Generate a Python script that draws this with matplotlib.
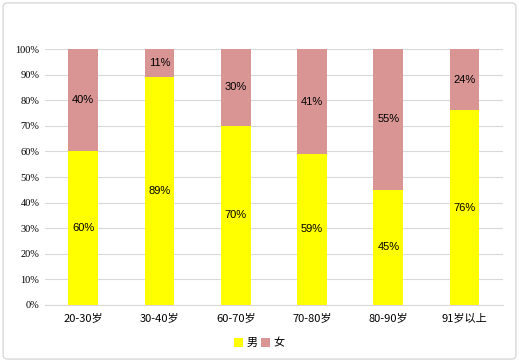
import numpy as np
import matplotlib
matplotlib.use('Agg')
import matplotlib.pyplot as plt
from matplotlib.patches import FancyBboxPatch

plt.rcParams['font.family'] = ['Noto Sans CJK SC', 'DejaVu Sans']

categories = ['20-30岁', '30-40岁', '60-70岁', '70-80岁', '80-90岁', '91岁以上']
male = [60, 89, 70, 59, 45, 76]
female = [40, 11, 30, 41, 55, 24]
yticks = [0, 10, 20, 30, 40, 50, 60, 70, 80, 90, 100]

male_color = '#FFFF00'
female_color = '#D99594'

fig = plt.figure(figsize=(5.19, 3.62), dpi=100)
ax = fig.add_axes([0.0867, 0.1575, 0.882, 0.707])

# light frame around whole chart
frame = FancyBboxPatch((0.006, 0.008), 0.988, 0.984, boxstyle='round,pad=0,rounding_size=0.01',
                       transform=fig.transFigure, fill=False, edgecolor='#D9D9D9', linewidth=1)
fig.patches.append(frame)

x = np.arange(len(categories))
w = 0.39
b1 = ax.bar(x, male, w, color=male_color, label='男', zorder=3)
b2 = ax.bar(x, female, w, bottom=male, color=female_color, label='女', zorder=3)

for i in range(len(categories)):
    ax.text(x[i], male[i] / 2, f'{male[i]}%', ha='center', va='center', fontsize=8,
            family='Liberation Sans', zorder=4)
    ax.text(x[i], male[i] + female[i] / 2, f'{female[i]}%', ha='center', va='center',
            fontsize=8, family='Liberation Sans', zorder=4)

ax.set_xlim(-0.5, len(categories) - 0.5)
ax.set_ylim(0, 100)
ax.set_yticks(yticks)
ax.set_yticklabels([f'{t}%' for t in yticks], family='Liberation Serif', fontsize=7.5)
ax.set_xticks(x)
ax.set_xticklabels(categories, fontsize=8)
ax.yaxis.grid(True, color='#D9D9D9', linewidth=0.8, zorder=0)
ax.tick_params(axis='both', length=0, pad=4)
ax.tick_params(axis='x', pad=6)
for s in ['top', 'right', 'left']:
    ax.spines[s].set_visible(False)
ax.spines['bottom'].set_color('#D9D9D9')

fig.legend(handles=[b1, b2], loc='center', bbox_to_anchor=(0.5, 0.052), ncol=2, frameon=False,
           fontsize=8, handlelength=0.8, handleheight=0.8, handletextpad=0.3, columnspacing=0.3)

plt.savefig('out.png', dpi=100)
